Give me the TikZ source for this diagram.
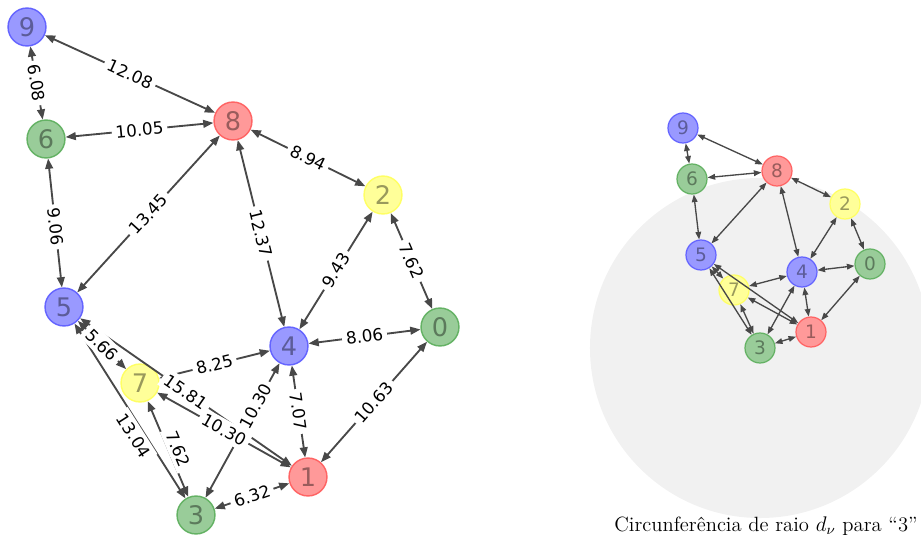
\documentclass[tikz,border=0pt]{standalone}
\usepackage{fontspec}
\newfontfamily\dejavu{DejaVu Sans}
\usetikzlibrary{arrows.meta,backgrounds,calc}

% node colours: fill, outline, digit
\definecolor{bfill}{RGB}{153,153,255}\definecolor{bline}{RGB}{100,100,255}\definecolor{btext}{RGB}{92,92,153}
\definecolor{rfill}{RGB}{255,153,153}\definecolor{rline}{RGB}{255,100,100}\definecolor{rtext}{RGB}{153,92,92}
\definecolor{gfill}{RGB}{153,204,153}\definecolor{gline}{RGB}{100,178,100}\definecolor{gtext}{RGB}{92,122,92}
\definecolor{yfill}{RGB}{255,255,153}\definecolor{yline}{RGB}{255,255,100}\definecolor{ytext}{RGB}{153,153,92}
\definecolor{linkgray}{RGB}{72,72,72}
\definecolor{halo}{RGB}{241,241,241}

\tikzset{
  vtx/.style={circle, minimum size=21.5pt, inner sep=0pt, line width=0.8pt,
              font=\dejavu\fontsize{14.5}{14.5}\selectfont},
  svtx/.style={circle, minimum size=17pt, inner sep=0pt, line width=0.7pt,
               font=\dejavu\fontsize{10.5}{10.5}\selectfont},
  cb/.style={fill=bfill, draw=bline, text=btext},
  cr/.style={fill=rfill, draw=rline, text=rtext},
  cg/.style={fill=gfill, draw=gline, text=gtext},
  cy/.style={fill=yfill, draw=yline, text=ytext},
  link/.style={draw=linkgray, line width=1.05pt,
               {Triangle[length=5.8pt,width=4.4pt]}-{Triangle[length=5.8pt,width=4.4pt]}},
  slink/.style={draw=linkgray, line width=0.75pt,
                {Triangle[length=4.3pt,width=3.2pt]}-{Triangle[length=4.3pt,width=3.2pt]}},
  wlbl/.style={sloped, fill=white, inner sep=2.2pt, text=black,
               font=\dejavu\fontsize{9.5}{9.5}\selectfont},
}

\begin{document}
\begin{tikzpicture}[x=0.567pt, y=-0.567pt]
\useasboundingbox (0,0) rectangle (921,541);

% ---- weighted graph ----
\node[vtx,cg] (n0) at (440,327) {0};
\node[vtx,cr] (n1) at (308,477) {1};
\node[vtx,cy] (n2) at (383,195) {2};
\node[vtx,cg] (n3) at (196,515) {3};
\node[vtx,cb] (n4) at (289,346) {4};
\node[vtx,cb] (n5) at (64,307)  {5};
\node[vtx,cg] (n6) at (46,139)  {6};
\node[vtx,cy] (n7) at (140,383) {7};
\node[vtx,cr] (n8) at (233,121) {8};
\node[vtx,cb] (n9) at (27,27)   {9};

\foreach \a/\b in {9/8,9/6,6/8,8/2,8/5,8/4,6/5,2/4,2/0,4/0,5/7,7/4,5/1,7/1,4/3,4/1,0/1,5/3,7/3,3/1}
  \draw[link] (n\a) -- (n\b);

% weights, set on top of the lines
\foreach \a/\b/\p/\t in {9/8/0.5/12.08, 9/6/0.5/6.08, 6/8/0.5/10.05, 8/2/0.5/8.94,
    8/5/0.5/13.45, 8/4/0.5/12.37, 6/5/0.53/9.06, 2/4/0.5/9.43, 2/0/0.5/7.62,
    4/0/0.5/8.06, 5/7/0.5/5.66, 7/4/0.5/8.25, 5/1/0.5/15.81, 7/1/0.5/10.30,
    4/3/0.32/10.30, 4/1/0.5/7.07, 0/1/0.5/10.63, 3/1/0.5/6.32}
  \path (n\a) -- node[wlbl,pos=\p] {\t} (n\b);
% the two crowded weights between 5, 7 and 3 sit beside their lines
\path ($(n5)+(-12,0)$) -- node[wlbl,pos=0.62] {13.04} ($(n3)+(-12,0)$);
\path ($(n7)+(10,0)$) -- node[wlbl,pos=0.5] {7.62} ($(n3)+(10,0)$);

% ---- same graph, small, with the disc of radius d around node 3 ----
\node[svtx,cg] (m0) at (870,264) {0};
\node[svtx,cr] (m1) at (811,332) {1};
\node[svtx,cy] (m2) at (845,204) {2};
\node[svtx,cg] (m3) at (760,348) {3};
\node[svtx,cb] (m4) at (802,272) {4};
\node[svtx,cb] (m5) at (701,255) {5};
\node[svtx,cg] (m6) at (692,179) {6};
\node[svtx,cy] (m7) at (734,290) {7};
\node[svtx,cr] (m8) at (777,171) {8};
\node[svtx,cb] (m9) at (683,128) {9};

\begin{scope}[on background layer]
  \fill[halo] (m3.center) circle[radius=96.4pt];
\end{scope}

\foreach \a/\b in {9/8,9/6,6/8,8/2,8/5,8/4,6/5,2/4,2/0,4/0,5/7,7/4,5/1,7/1,4/3,4/1,0/1,5/3,7/3,3/1}
  \draw[slink] (m\a) -- (m\b);

\node[font=\fontsize{11.7}{14}\selectfont] (cap) at (766,526)
  {Circunferência de raio $d_\nu$ para “3”};
\end{tikzpicture}
\end{document}
